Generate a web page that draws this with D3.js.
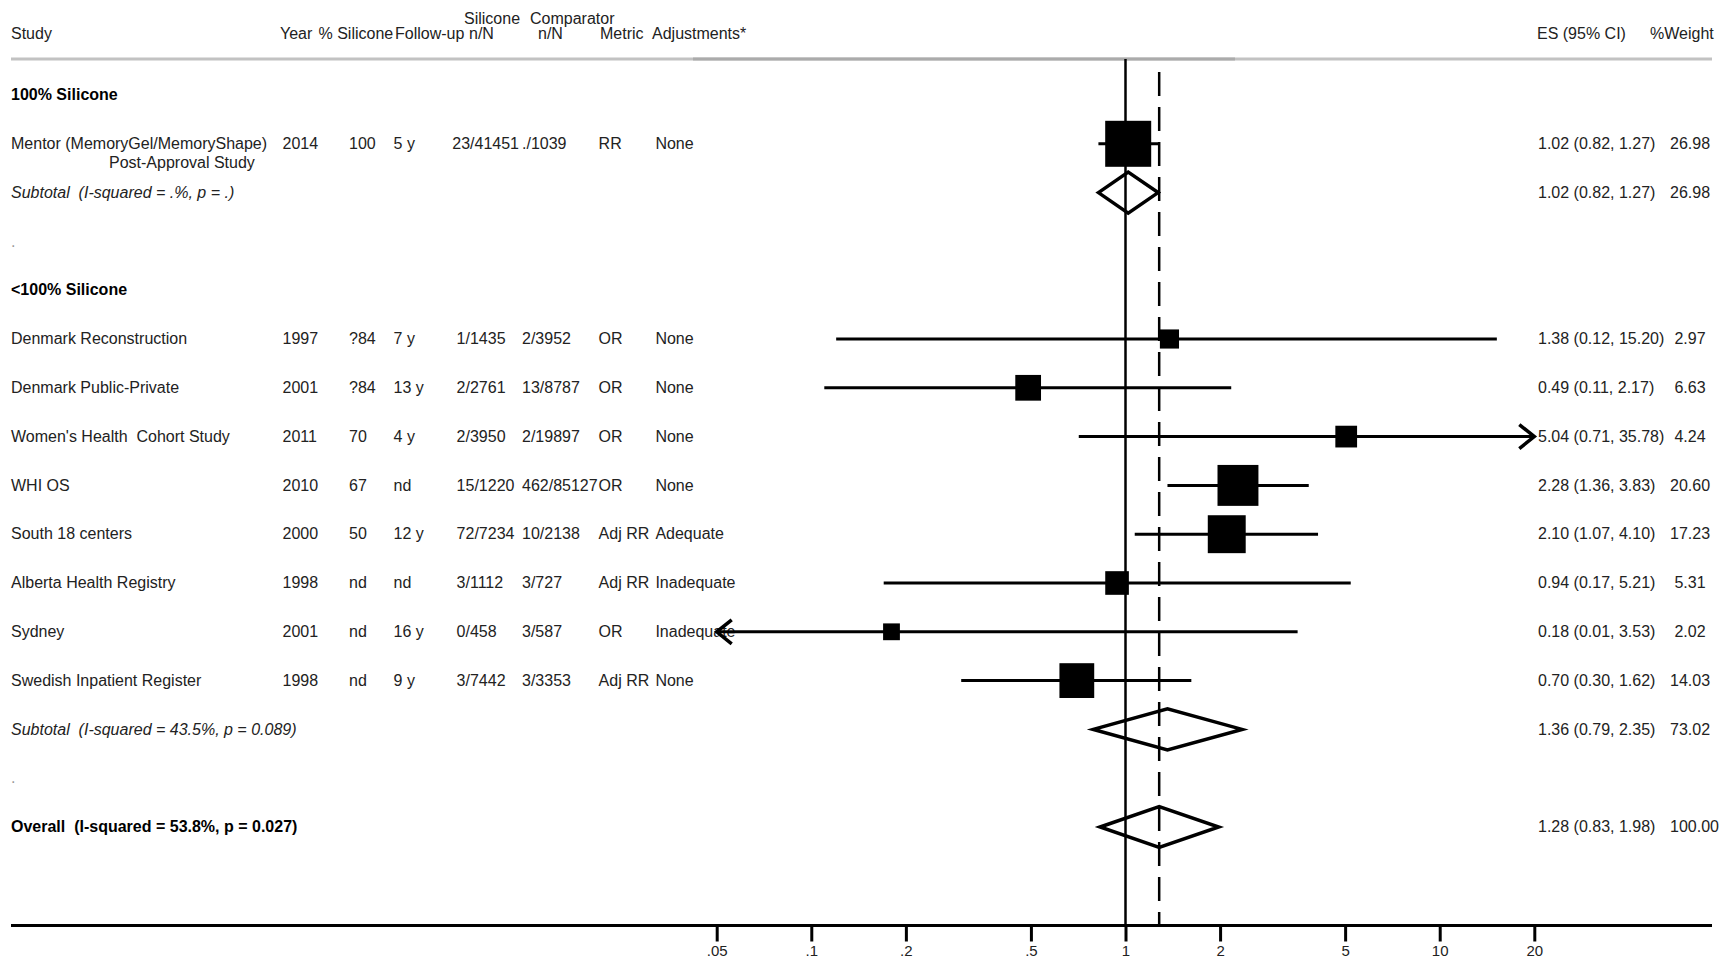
<!DOCTYPE html>
<meta charset="utf-8">
<style>

body {
  margin: 0;
  background: #fff;
}

text {
  font-family: "Liberation Sans", Arial, sans-serif;
  font-size: 16px;
  fill: #222;
  white-space: pre;
}

.bold {
  font-weight: bold;
  fill: #000;
}

.ital {
  font-style: italic;
}

.tick text {
  font-size: 15px;
}

</style>
<svg width="1721" height="960"></svg>
<script src="https://d3js.org/d3.v7.min.js"></script>
<script>

var studies = ["Mentor (MemoryGel/MemoryShape)\nPost-Approval Study", "Denmark Reconstruction", "Denmark Public-Private",
  "Women's Health  Cohort Study", "WHI OS", "South 18 centers", "Alberta Health Registry", "Sydney", "Swedish Inpatient Register"];
var groupOf = [0, 1, 1, 1, 1, 1, 1, 1, 1];
var years = ["2014", "1997", "2001", "2011", "2010", "2000", "1998", "2001", "1998"];
var pctSilicone = ["100", "?84", "?84", "70", "67", "50", "nd", "nd", "nd"];
var followUp = ["5 y", "7 y", "13 y", "4 y", "nd", "12 y", "nd", "16 y", "9 y"];
var siliconeNN = ["23/41451", "1/1435", "2/2761", "2/3950", "15/1220", "72/7234", "3/1112", "0/458", "3/7442"];
var comparatorNN = ["./1039", "2/3952", "13/8787", "2/19897", "462/85127", "10/2138", "3/727", "3/587", "3/3353"];
var metrics = ["RR", "OR", "OR", "OR", "OR", "Adj RR", "Adj RR", "OR", "Adj RR"];
var adjustments = ["None", "None", "None", "None", "None", "Adequate", "Inadequate", "Inadequate", "None"];
var es = [1.02, 1.38, 0.49, 5.04, 2.28, 2.10, 0.94, 0.18, 0.70];
var ciLow = [0.82, 0.12, 0.11, 0.71, 1.36, 1.07, 0.17, 0.01, 0.30];
var ciHigh = [1.27, 15.20, 2.17, 35.78, 3.83, 4.10, 5.21, 3.53, 1.62];
var weights = [26.98, 2.97, 6.63, 4.24, 20.60, 17.23, 5.31, 2.02, 14.03];

var groups = ["100% Silicone", "<100% Silicone"];
var subLabels = ["Subtotal  (I-squared = .%, p = .)", "Subtotal  (I-squared = 43.5%, p = 0.089)"];
var subES = [1.02, 1.36];
var subLow = [0.82, 0.79];
var subHigh = [1.27, 2.35];
var subWeight = [26.98, 73.02];

var overallLabel = "Overall  (I-squared = 53.8%, p = 0.027)";
var overallES = 1.28, overallLow = 0.83, overallHigh = 1.98, overallWeight = 100.00;

var tickValues = [0.05, 0.1, 0.2, 0.5, 1, 2, 5, 10, 20];
var tickLabels = [".05", ".1", ".2", ".5", "1", "2", "5", "10", "20"];

var svg = d3.select("svg");

// one row per line of the table
var rows = [];
groups.forEach(function(g, gi) {
  rows.push({type: "head", label: g});
  studies.forEach(function(s, i) { if (groupOf[i] === gi) rows.push({type: "study", i: i}); });
  rows.push({type: "sub", g: gi});
  rows.push({type: "gap"});
});
rows.push({type: "overall"});
rows.forEach(function(r, k) { r.row = k; });

var y = d3.scaleLinear().domain([0, rows.length - 1]).range([95, 827]);
var x = d3.scaleLog().domain([0.05, 20]).range([716.7, 1534.3]);
var box = d3.scaleSqrt().domain([0, 26.98]).range([0, 40.2]);
var axisY = 925.5, topY = 59, dy = "0.32em";

var fmt = d3.format(".2f"),
    fmtW = d3.format("5.2f");
function esText(e, l, h) { return fmt(e) + " (" + fmt(l) + ", " + fmt(h) + ")"; }

// header
svg.append("line").attr("x1", 11).attr("x2", 1712).attr("y1", topY).attr("y2", topY)
    .attr("stroke", "#c2c2c2").attr("stroke-width", 3);
svg.append("line").attr("x1", 693).attr("x2", 1235).attr("y1", topY).attr("y2", topY)
    .attr("stroke", "#ababab").attr("stroke-width", 3);

var header = [
  ["Study", "", 11], ["Year", "", 280], ["% Silicone", "", 318.5], ["Follow-up", "", 395],
  ["n/N", "Silicone", 469], ["n/N", "Comparator", 538], ["Metric", "", 600], ["Adjustments*", "", 652],
  ["ES (95% CI)", "", 1537], ["%Weight", "", 1650]
];
var hg = svg.append("g");
header.forEach(function(h) {
  hg.append("text").attr("x", h[2]).attr("y", 34).attr("dy", dy).text(h[0]);
  if (h[1]) hg.append("text").attr("x", h[1] === "Silicone" ? 464 : 530).attr("y", 18.5).attr("dy", dy).text(h[1]);
});

// reference lines
svg.append("line").attr("x1", x(1)).attr("x2", x(1)).attr("y1", topY).attr("y2", axisY)
    .attr("stroke", "#000").attr("stroke-width", 2.5);
svg.append("line").attr("x1", x(overallES)).attr("x2", x(overallES)).attr("y1", topY + 2).attr("y2", axisY)
    .attr("stroke", "#000").attr("stroke-width", 2.5)
    .attr("stroke-dasharray", "24,11").attr("stroke-dashoffset", 24);

// table text
var cols = [
  [years, 282.5], [pctSilicone, 349], [followUp, 393.6], [siliconeNN, 456.6],
  [comparatorNN, 522], [metrics, 598.6], [adjustments, 655.4]
];
var tg = svg.append("g");
rows.forEach(function(r) {
  var yy = y(r.row);
  if (r.type === "head") {
    tg.append("text").attr("class", "bold").attr("x", 11).attr("y", yy).attr("dy", dy).text(r.label);
  } else if (r.type === "gap") {
    tg.append("text").attr("x", 11).attr("y", yy).attr("dy", dy).style("fill", "#999").text(".");
  } else if (r.type === "study") {
    var i = r.i, lines = studies[i].split("\n");
    tg.append("text").attr("x", 11).attr("y", yy).attr("dy", dy).text(lines[0]);
    if (lines[1]) tg.append("text").attr("x", 109).attr("y", yy + 19).attr("dy", dy).text(lines[1]);
    cols.forEach(function(c, ci) {
      var t = tg.append("text").attr("x", c[1]).attr("y", yy).attr("dy", dy).text(c[0][i]);
      // Stata pulls a long string back so it does not run into the next column
      if (ci === 3) {
        var over = c[1] + t.node().getComputedTextLength() - (cols[ci + 1][1] - 3);
        if (over > 0) t.attr("x", c[1] - over);
      }
    });
    tg.append("text").attr("x", 1538).attr("y", yy).attr("dy", dy).text(esText(es[i], ciLow[i], ciHigh[i]));
    tg.append("text").attr("x", 1670).attr("y", yy).attr("dy", dy).text(fmtW(weights[i]));
  } else if (r.type === "sub") {
    tg.append("text").attr("class", "ital").attr("x", 11).attr("y", yy).attr("dy", dy).text(subLabels[r.g]);
    tg.append("text").attr("x", 1538).attr("y", yy).attr("dy", dy).text(esText(subES[r.g], subLow[r.g], subHigh[r.g]));
    tg.append("text").attr("x", 1670).attr("y", yy).attr("dy", dy).text(fmtW(subWeight[r.g]));
  } else {
    tg.append("text").attr("class", "bold").attr("x", 11).attr("y", yy).attr("dy", dy).text(overallLabel);
    tg.append("text").attr("x", 1538).attr("y", yy).attr("dy", dy).text(esText(overallES, overallLow, overallHigh));
    tg.append("text").attr("x", 1670).attr("y", yy).attr("dy", dy).text(fmtW(overallWeight));
  }
});

// study marks
var lo = x.domain()[0], hi = x.domain()[1];
var studyRows = rows.filter(function(r) { return r.type === "study"; });
var mg = svg.append("g");

mg.selectAll(".ci")
  .data(studyRows)
  .join("line")
    .attr("class", "ci")
    .attr("x1", function(r) { return x(Math.max(ciLow[r.i], lo)); })
    .attr("x2", function(r) { return x(Math.min(ciHigh[r.i], hi)); })
    .attr("y1", function(r) { return y(r.row); })
    .attr("y2", function(r) { return y(r.row); })
    .attr("stroke", "#000").attr("stroke-width", 3);

// arrows where the interval runs off the scale
var arrows = [];
studyRows.forEach(function(r) {
  if (ciHigh[r.i] > hi) arrows.push({x: x(hi), y: y(r.row), d: 1});
  if (ciLow[r.i] < lo) arrows.push({x: x(lo), y: y(r.row), d: -1});
});
mg.selectAll(".arrow")
  .data(arrows)
  .join("path")
    .attr("class", "arrow")
    .attr("d", function(a) {
      return "M" + (a.x - a.d * 15) + "," + (a.y - 12) + "L" + a.x + "," + a.y + "L" + (a.x - a.d * 15) + "," + (a.y + 12);
    })
    .attr("fill", "none").attr("stroke", "#000").attr("stroke-width", 3.5);

mg.selectAll(".box")
  .data(studyRows)
  .join("rect")
    .attr("class", "box")
    .attr("x", function(r) { return x(es[r.i]) - box(weights[r.i]) / 2; })
    .attr("y", function(r) { return y(r.row) - box(weights[r.i]) / 2; })
    .attr("width", function(r) { return box(weights[r.i]); })
    .attr("height", function(r) { return box(weights[r.i]); })
    .attr("fill", "#000").attr("stroke", "#000").attr("stroke-width", 5.8);

// pooled diamonds
var pooled = [];
rows.forEach(function(r) {
  if (r.type === "sub") pooled.push({row: r.row, e: subES[r.g], l: subLow[r.g], h: subHigh[r.g]});
  if (r.type === "overall") pooled.push({row: r.row, e: overallES, l: overallLow, h: overallHigh});
});
mg.selectAll(".diamond")
  .data(pooled)
  .join("path")
    .attr("class", "diamond")
    .attr("d", function(p) {
      var yy = y(p.row);
      return "M" + x(p.l) + "," + yy + "L" + x(p.e) + "," + (yy - 20.5) + "L" + x(p.h) + "," + yy +
        "L" + x(p.e) + "," + (yy + 20.5) + "Z";
    })
    .attr("fill", "none").attr("stroke", "#000").attr("stroke-width", 3.5);

// axis
svg.append("line").attr("x1", 11).attr("x2", 1712).attr("y1", axisY).attr("y2", axisY)
    .attr("stroke", "#000").attr("stroke-width", 3);
var ax = svg.append("g")
    .attr("transform", "translate(0," + axisY + ")")
    .call(d3.axisBottom(x)
      .tickValues(tickValues)
      .tickFormat(function(d, i) { return tickLabels[i]; })
      .tickSize(16)
      .tickPadding(4));
ax.select(".domain").remove();
ax.selectAll(".tick line").attr("stroke", "#000").attr("stroke-width", 3);
ax.selectAll(".tick text").attr("fill", "#222").style("font-family", "'Liberation Sans', Arial, sans-serif");

</script>
